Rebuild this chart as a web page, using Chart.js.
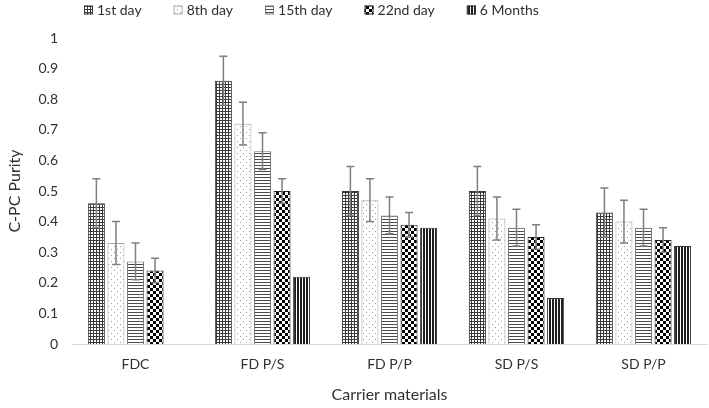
<!DOCTYPE html>
<html>
<head>
<meta charset="utf-8">
<script src="https://cdn.jsdelivr.net/npm/chart.js@4"></script>
<style>
  html, body { margin: 0; padding: 0; background: #fff; }
</style>
</head>
<body>
<canvas id="chart" width="709" height="408"></canvas>
<script>
// data
const categories = ['FDC', 'FD P/S', 'FD P/P', 'SD P/S', 'SD P/P'];
const seriesNames = ['1st day', '8th day', '15th day', '22nd day', '6 Months'];
const day1 = [0.46, 0.86, 0.50, 0.50, 0.43];
const day8 = [0.33, 0.72, 0.47, 0.41, 0.40];
const day15 = [0.27, 0.63, 0.42, 0.38, 0.38];
const day22 = [0.24, 0.50, 0.39, 0.35, 0.34];
const month6 = [null, 0.22, 0.38, 0.15, 0.32];
const err1 = [0.08, 0.08, 0.08, 0.08, 0.08];
const err8 = [0.07, 0.07, 0.07, 0.07, 0.07];
const err15 = [0.06, 0.06, 0.06, 0.06, 0.06];
const err22 = [0.04, 0.04, 0.04, 0.04, 0.04];
const yTickLabels = ['0', '0.1', '0.2', '0.3', '0.4', '0.5', '0.6', '0.7', '0.8', '0.9', '1'];

const FONT = 'Lato';
const TEXT = '#303030';

function makePattern(kind) {
    const c = document.createElement('canvas');
    let w = 3, h = 3;
    if (kind === 'dots' || kind === 'check') { w = 6; h = 6; }
    c.width = w; c.height = h;
    const g = c.getContext('2d');
    g.fillStyle = '#fff';
    g.fillRect(0, 0, w, h);
    if (kind === 'grid') {
        g.fillStyle = '#3a3a3a';
        g.fillRect(0, 0, w, 1);
        g.fillRect(0, 0, 1, h);
    } else if (kind === 'dots') {
        g.fillStyle = '#9a9a9a';
        g.fillRect(0, 0, 1, 1);
        g.fillRect(3, 3, 1, 1);
    } else if (kind === 'hlines') {
        g.fillStyle = '#4a4a4a';
        g.fillRect(0, 0, w, 1);
    } else if (kind === 'check') {
        g.fillStyle = '#000';
        g.fillRect(0, 0, 3, 3);
        g.fillRect(3, 3, 3, 3);
    } else if (kind === 'vlines') {
        g.fillStyle = '#1e1e1e';
        g.fillRect(0, 0, 2, h);
    }
    return g.createPattern(c, 'repeat');
}

const errorBars = {
    id: 'errorBars',
    afterDatasetsDraw(chart) {
        const ctx = chart.ctx;
        const y = chart.scales.y;
        ctx.save();
        ctx.strokeStyle = '#7f7f7f';
        ctx.lineWidth = 1.5;
        chart.data.datasets.forEach((ds, di) => {
            if (!ds.errors) return;
            chart.getDatasetMeta(di).data.forEach((bar, i) => {
                const v = ds.data[i], e = ds.errors[i];
                if (v == null || e == null) return;
                const top = y.getPixelForValue(v + e);
                const bot = y.getPixelForValue(v - e);
                ctx.beginPath();
                ctx.moveTo(bar.x, top); ctx.lineTo(bar.x, bot);
                ctx.moveTo(bar.x - 4, top); ctx.lineTo(bar.x + 4, top);
                ctx.moveTo(bar.x - 4, bot); ctx.lineTo(bar.x + 4, bot);
                ctx.stroke();
            });
        });
        ctx.restore();
    }
};

// legend drawn by hand so the item gaps can match the figure
const patternLegend = {
    id: 'patternLegend',
    afterDraw(chart) {
        const ctx = chart.ctx;
        ctx.save();
        ctx.font = '14px ' + FONT;
        ctx.textBaseline = 'middle';
        const box = 9, gapText = 4, gapItem = 32, midY = 10, center = 311;
        const items = chart.data.datasets.map(ds => ({ ds, w: box + gapText + ctx.measureText(ds.label).width }));
        const total = items.reduce((s, it) => s + it.w, 0) + gapItem * (items.length - 1);
        let x = Math.round(center - total / 2);
        items.forEach(it => {
            ctx.fillStyle = it.ds.backgroundColor;
            ctx.fillRect(x, midY - box / 2, box, box);
            ctx.strokeStyle = it.ds.borderColor;
            ctx.lineWidth = 1;
            ctx.strokeRect(x + 0.5, midY - box / 2 + 0.5, box - 1, box - 1);
            ctx.fillStyle = TEXT;
            ctx.fillText(it.ds.label, x + box + gapText, midY);
            x += it.w + gapItem;
        });
        ctx.restore();
    }
};

const seriesData = [day1, day8, day15, day22, month6];
const seriesErr = [err1, err8, err15, err22, null];
const seriesFill = ['grid', 'dots', 'hlines', 'check', 'vlines'];
const seriesBorder = ['#3a3a3a', '#a6a6a6', '#7a7a7a', '#222', '#333'];

new Chart(document.getElementById('chart'), {
    type: 'bar',
    data: {
        labels: categories,
        datasets: seriesNames.map((name, i) => ({
            label: name,
            data: seriesData[i],
            errors: seriesErr[i],
            backgroundColor: makePattern(seriesFill[i]),
            borderColor: seriesBorder[i],
            borderWidth: 1,
            categoryPercentage: 0.77,
            barPercentage: 0.87
        }))
    },
    options: {
        responsive: false,
        animation: false,
        layout: { padding: { top: 38, right: 2, left: 0, bottom: 0 } },
        plugins: {
            legend: { display: false },
            tooltip: { enabled: false }
        },
        scales: {
            x: {
                grid: { display: false, drawTicks: false },
                border: { display: true, color: '#d9d9d9', width: 1 },
                ticks: { color: TEXT, font: { family: FONT, size: 14 }, padding: 12 },
                title: { display: true, text: 'Carrier materials', color: TEXT, font: { family: FONT, size: 16 }, padding: { top: 4, bottom: 4 } },
                afterFit: s => { s.height = 64; }
            },
            y: {
                min: 0,
                max: 1,
                grid: { display: false, drawTicks: false },
                border: { display: false },
                ticks: {
                    stepSize: 0.1,
                    color: TEXT,
                    font: { family: FONT, size: 14 },
                    padding: 14,
                    callback: (v, i) => yTickLabels[i]
                },
                title: { display: true, text: 'C-PC Purity', color: TEXT, font: { family: FONT, size: 16 }, padding: { top: 5, bottom: 4 } },
                afterFit: s => { s.width = 72; }
            }
        }
    },
    plugins: [errorBars, patternLegend]
});
</script>
</body>
</html>
